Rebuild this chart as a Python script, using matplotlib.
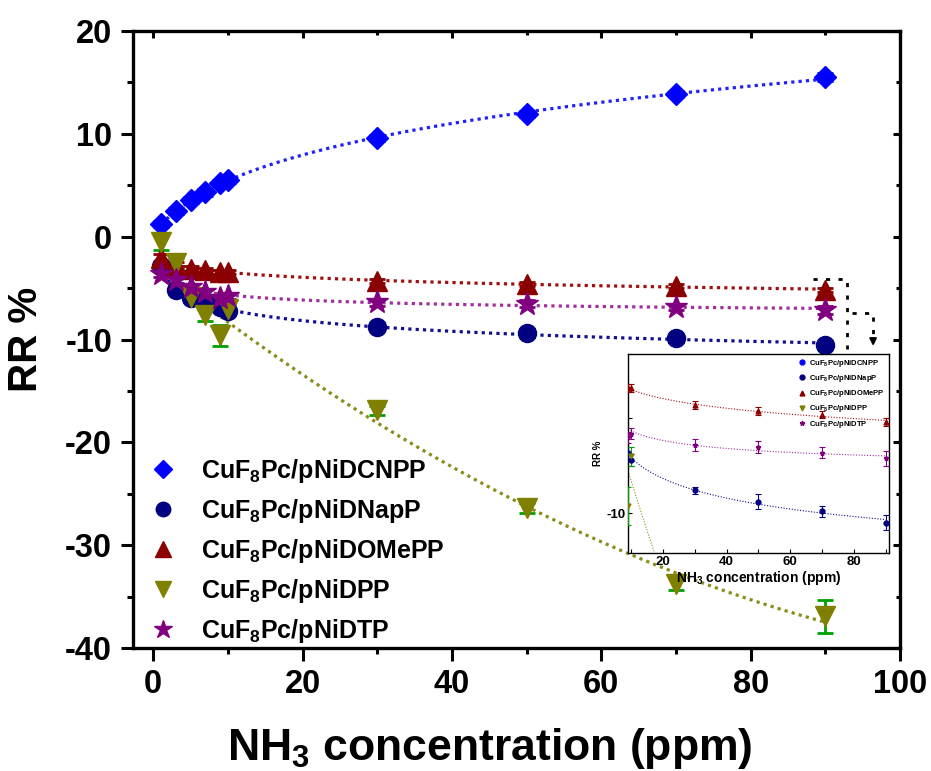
import numpy as np
import matplotlib
matplotlib.use('Agg')
import matplotlib.pyplot as plt
from matplotlib.ticker import MultipleLocator

plt.rcParams['font.family'] = ['Liberation Sans', 'DejaVu Sans']
plt.rcParams['font.weight'] = 'bold'
plt.rcParams['mathtext.fontset'] = 'custom'
plt.rcParams['mathtext.rm'] = 'Liberation Sans:bold'
plt.rcParams['mathtext.bf'] = 'Liberation Sans:bold'
plt.rcParams['mathtext.default'] = 'bf'
plt.rcParams['axes.unicode_minus'] = False

# NH3 concentration (ppm)
conc = np.array([1, 3, 5, 7, 9, 10, 30, 50, 70, 90])

# RR % for each sensor
rr_dcnpp = [1.2, 2.5, 3.6, 4.3, 5.2, 5.5, 9.6, 11.9, 13.9, 15.5]
rr_dnapp = [-2.9, -5.2, -6.0, -6.3, -6.8, -7.2, -8.8, -9.4, -9.9, -10.5]
rr_domepp = [-2.1, -2.8, -3.1, -3.2, -3.4, -3.4, -4.3, -4.6, -4.8, -5.2]
rr_dpp = [-0.5, -2.6, -5.9, -7.6, -9.6, -7.0, -16.9, -26.4, -33.8, -36.9]
rr_dtp = [-3.6, -4.2, -4.9, -5.4, -6.0, -5.8, -6.4, -6.5, -6.8, -7.1]

err_dcnpp = [0.3, 0.3, 0.3, 0.3, 0.3, 0.3, 0.3, 0.3, 0.3, 0.4]
err_dnapp = [0.3, 0.3, 0.3, 0.3, 0.3, 0.3, 0.2, 0.4, 0.3, 0.4]
err_domepp = [0.4, 0.3, 0.2, 0.2, 0.2, 0.2, 0.2, 0.2, 0.2, 0.2]
err_dpp = [0.8, 0.5, 0.5, 0.6, 1.0, 0.5, 0.4, 0.5, 0.6, 1.6]
err_dtp = [0.3, 0.3, 0.3, 0.3, 0.3, 0.3, 0.3, 0.3, 0.3, 0.4]

labels = [r'CuF$_{8}$Pc/pNiDCNPP', r'CuF$_{8}$Pc/pNiDNapP', r'CuF$_{8}$Pc/pNiDOMePP',
          r'CuF$_{8}$Pc/pNiDPP', r'CuF$_{8}$Pc/pNiDTP']

series = [
    # values, errors, marker, size, marker colour, errorbar colour, fit colour
    (rr_dcnpp, err_dcnpp, 'D', 11, '#0000ff', '#0000ff', '#2020ff'),
    (rr_dnapp, err_dnapp, 'o', 13, '#000080', '#000000', '#101090'),
    (rr_domepp, err_domepp, '^', 14, '#8b0000', '#8b0000', '#a01010'),
    (rr_dpp, err_dpp, 'v', 14, '#808000', '#00a000', '#8c8c1c'),
    (rr_dtp, err_dtp, '*', 17, '#800080', '#800080', '#a030a0'),
]


def fit_curve(y, name):
    # smooth fit through the measured points
    if name == 'dpp':
        m = conc >= 9
        c = np.polyfit(conc[m], np.array(y)[m], 2)
        xx = np.linspace(9, 90, 200)
        return xx, np.polyval(c, xx)
    c = np.polyfit(np.log(conc), y, 2)
    xx = np.linspace(1, 90, 200)
    return xx, np.polyval(c, np.log(xx))


names = ['dcnpp', 'dnapp', 'domepp', 'dpp', 'dtp']

fig = plt.figure(figsize=(9.31, 7.71), dpi=100)
ax = fig.add_axes([0.1429, 0.1595, 0.8238, 0.8003])

handles = []
for (y, e, mk, ms, col, ecol, fcol), nm, lab in zip(series, names, labels):
    xx, yy = fit_curve(y, nm)
    ax.plot(xx, yy, linestyle=(0, (1, 1.3)), color=fcol, lw=2.3, zorder=2)
    ax.errorbar(conc, y, yerr=e, fmt='none', ecolor=ecol, elinewidth=2, capsize=6, capthick=2, zorder=3)
    h, = ax.plot(conc, y, linestyle='none', marker=mk, ms=ms, color=col, mec=col, zorder=4, label=lab)
    handles.append(h)

ax.set_xlim(-2.7, 100)
ax.set_ylim(-40, 20)
ax.xaxis.set_major_locator(MultipleLocator(20))
ax.xaxis.set_minor_locator(MultipleLocator(10))
ax.yaxis.set_major_locator(MultipleLocator(10))
ax.yaxis.set_minor_locator(MultipleLocator(5))
ax.tick_params(which='major', direction='out', length=9, width=2.2, labelsize=23.5, pad=6)
ax.tick_params(which='minor', direction='out', length=4, width=2.2)
for s in ax.spines.values():
    s.set_linewidth(2.4)

top = ax.secondary_xaxis('top')
top.xaxis.set_major_locator(MultipleLocator(20))
top.xaxis.set_minor_locator(MultipleLocator(10))
top.tick_params(which='major', direction='in', length=5, width=2.2, labeltop=False)
top.tick_params(which='minor', direction='in', length=3, width=2.2)
right = ax.secondary_yaxis('right')
right.yaxis.set_major_locator(MultipleLocator(10))
right.yaxis.set_minor_locator(MultipleLocator(5))
right.tick_params(which='major', direction='in', length=5, width=2.2, labelright=False)
right.tick_params(which='minor', direction='in', length=3, width=2.2)

ax.set_xlabel(r'NH$_{3}$ concentration (ppm)', fontsize=32, fontweight='bold')
ax.xaxis.set_label_coords(0.465, -0.127)
ax.set_ylabel('RR %', fontsize=29, fontweight='bold')
ax.yaxis.set_label_coords(-0.115, 0.5)

ax.legend(handles=handles, loc='lower left', bbox_to_anchor=(0.0, -0.023), frameon=False,
          fontsize=18, markerscale=0.8, handlelength=1.0, handletextpad=1.0,
          labelspacing=0.48, borderaxespad=0.3)

# dashed bracket and arrow pointing to the inset
ax.plot([88.4, 92.9, 92.9], [-4.1, -4.1, -10.9], color='black', lw=2, linestyle=(0, (1.5, 3)))
ax.plot([93.6, 96.4, 96.4], [-7.4, -7.4, -9.6], color='black', lw=2, linestyle=(0, (1.5, 3)))
ax.annotate('', xy=(96.4, -10.9), xytext=(96.4, -9.8),
            arrowprops=dict(arrowstyle='-|>', color='black', lw=1.5, mutation_scale=10))

# inset
ins = fig.add_axes([0.6745, 0.2827, 0.2803, 0.2581])
ins_handles = []
for (y, e, mk, ms, col, ecol, fcol), nm, lab in zip(series, names, labels):
    xx, yy = fit_curve(y, nm)
    ins.plot(xx, yy, linestyle=(0, (1, 1.5)), color=fcol, lw=0.8, zorder=2)
    ins.errorbar(conc, y, yerr=e, fmt='none', ecolor=col if nm != 'dpp' else '#00a000',
                 elinewidth=0.8, capsize=2.5, capthick=0.8, zorder=3)
    h, = ins.plot(conc, y, linestyle='none', marker=mk if mk != 'D' else 'o', ms=3.5, color=col, zorder=4, label=lab)
    ins_handles.append(h)
ins.set_xlim(9, 91)
ins.set_ylim(-12.1, -1.6)
ins.xaxis.set_major_locator(MultipleLocator(20))
ins.xaxis.set_minor_locator(MultipleLocator(10))
ins.yaxis.set_major_locator(MultipleLocator(10))
ins.yaxis.set_minor_locator(MultipleLocator(5))
ins.tick_params(which='both', direction='in', labelsize=9.5, pad=2, length=3, width=0.8)
for s in ins.spines.values():
    s.set_linewidth(1.0)
ins.set_xlabel(r'NH$_{3}$ concentration (ppm)', fontsize=10, fontweight='bold', labelpad=1)
ins.set_ylabel('RR %', fontsize=7, fontweight='bold', labelpad=2)
ins.legend(handles=ins_handles, loc='upper right', frameon=False, fontsize=5.5,
           handlelength=0.8, handletextpad=0.6, labelspacing=0.55, borderaxespad=0.1)

fig.savefig('out.png', dpi=100)
